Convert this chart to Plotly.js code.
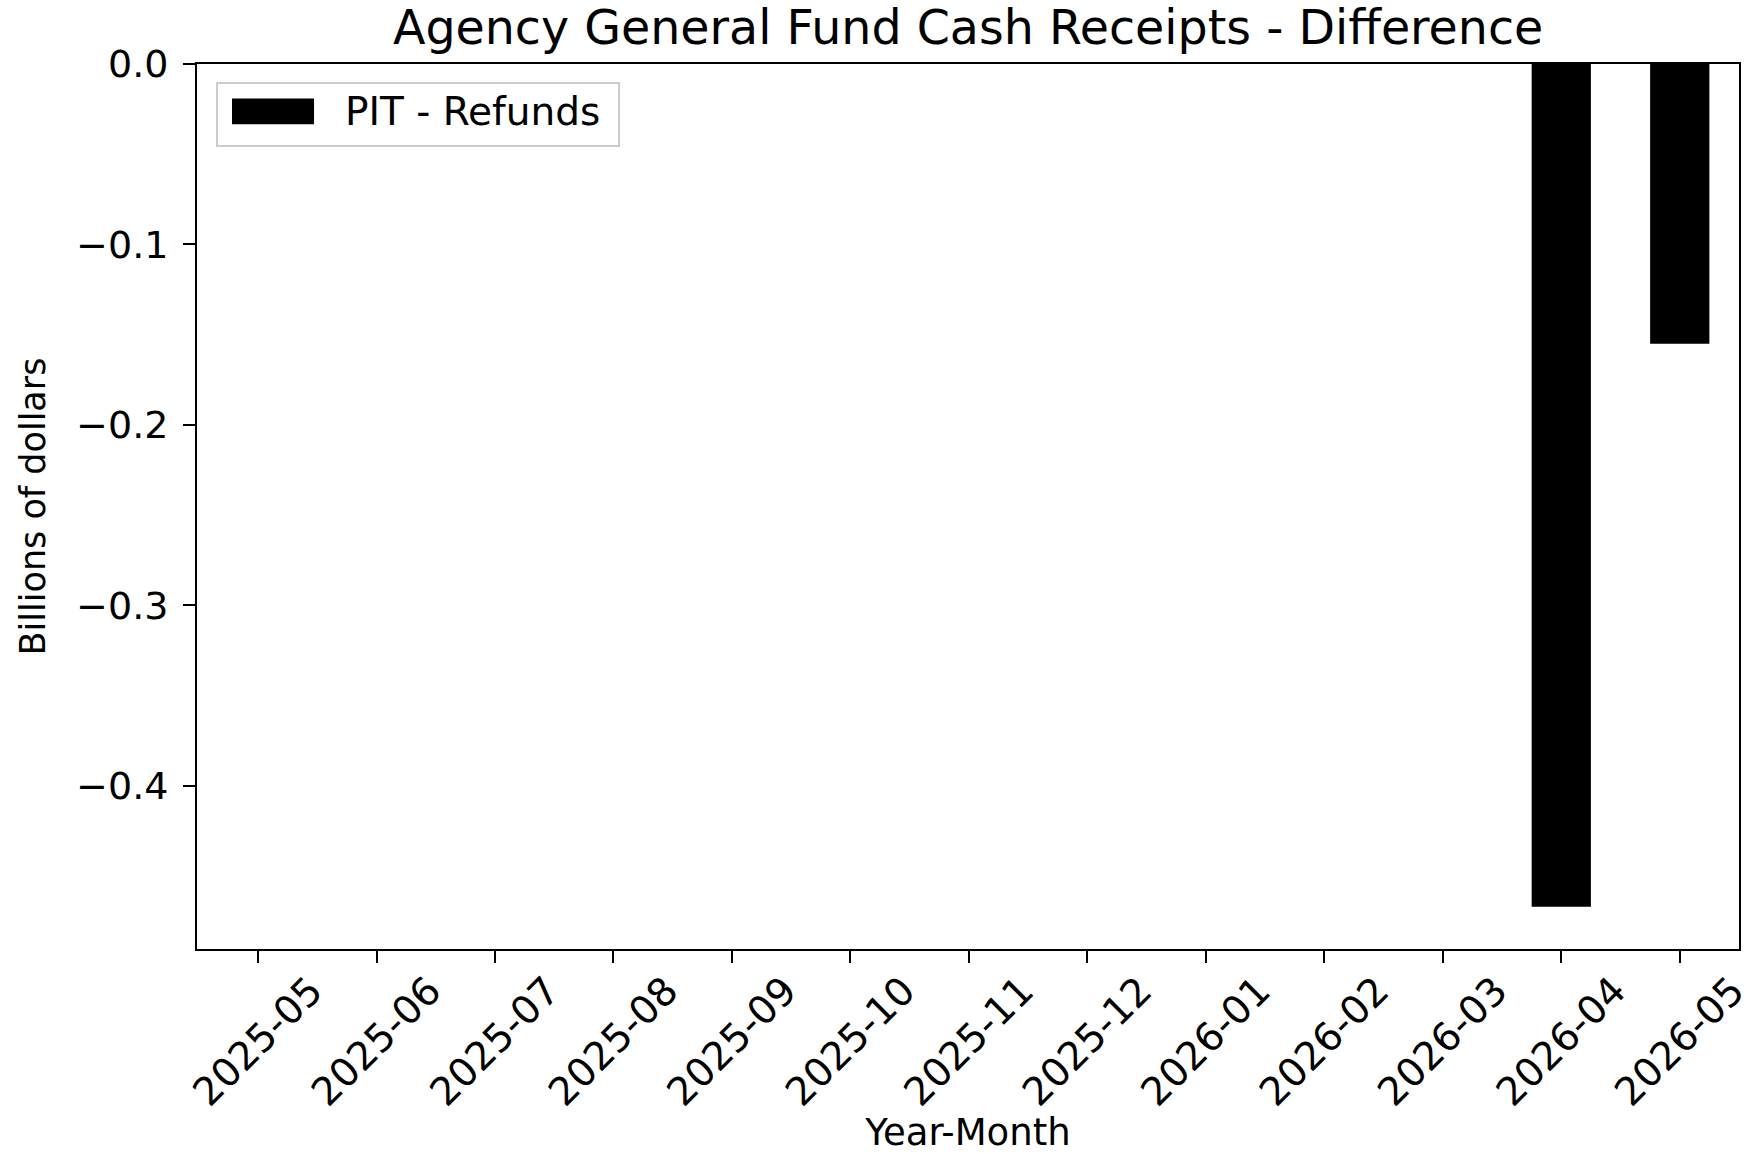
<!DOCTYPE html>
<html>
<head>
<meta charset="utf-8">
<script src="https://cdn.plot.ly/plotly-3.0.1.min.js"></script>
<style>html,body{margin:0;padding:0;background:#fff;}#chart{width:1756px;height:1154px;}</style>
</head>
<body>
<div id="chart"></div>
<script>
// Data
const months = ["2025-05","2025-06","2025-07","2025-08","2025-09","2025-10","2025-11","2025-12","2026-01","2026-02","2026-03","2026-04","2026-05"];
const pitRefunds = [0, 0, 0, 0, 0, 0, 0, 0, 0, 0, 0, -0.467, -0.155];
const seriesName = "PIT - Refunds";
const yTickVals = [0, -0.1, -0.2, -0.3, -0.4];
const chartTitle = "Agency General Fund Cash Receipts - Difference";
const xTitle = "Year-Month";
const yTitle = "Billions of dollars";

const FONT = "DejaVu Sans, Liberation Sans, sans-serif";

const trace = {
  type: "bar",
  x: months,
  y: pitRefunds,
  name: seriesName,
  width: 0.5,
  marker: {color: "#000000", line: {width: 0}},
  showlegend: false
};

const layout = {
  width: 1756,
  height: 1154,
  margin: {l: 197, r: 17, t: 64, b: 205},
  paper_bgcolor: "#ffffff",
  plot_bgcolor: "#ffffff",
  font: {family: FONT, color: "#000000", size: 37},
  title: {
    text: chartTitle,
    font: {family: FONT, size: 47.5, color: "#000000"},
    x: 0.5513, xanchor: "center",
    y: 0.976, yanchor: "middle"
  },
  xaxis: {
    type: "category",
    range: [-0.515, 12.5],
    showgrid: false,
    zeroline: false,
    showline: true,
    linecolor: "#000000",
    linewidth: 2,
    mirror: true,
    ticks: "outside",
    ticklen: 12,
    tickwidth: 2,
    tickcolor: "#000000",
    tickangle: -45,
    ticklabelshift: 53,
    ticklabelstandoff: -11,
    tickfont: {family: FONT, size: 39, color: "#000000"},
    title: {text: xTitle, font: {family: FONT, size: 37, color: "#000000"}, standoff: 6}
  },
  yaxis: {
    range: [-0.4904, 0],
    tickvals: yTickVals,
    tickformat: ".1f",
    showgrid: false,
    zeroline: false,
    showline: true,
    linecolor: "#000000",
    linewidth: 2,
    mirror: true,
    ticks: "outside",
    ticklen: 12,
    tickwidth: 2,
    tickcolor: "#000000",
    ticklabelstandoff: 7,
    tickfont: {family: FONT, size: 38, color: "#000000"},
    title: {text: yTitle, font: {family: FONT, size: 35, color: "#000000"}, standoff: 20}
  },
  shapes: [
    {type: "rect", xref: "paper", yref: "paper", x0: 0.013, x1: 0.2737, y0: 0.9073, y1: 0.9785,
     line: {color: "#cccccc", width: 2}, fillcolor: "rgba(255,255,255,0.8)", layer: "above"},
    {type: "rect", xref: "paper", yref: "paper", x0: 0.0227, x1: 0.0759, y0: 0.932, y1: 0.961,
     line: {width: 0}, fillcolor: "#000000", layer: "above"}
  ],
  annotations: [
    {xref: "paper", yref: "paper", x: 0.0945, y: 0.9458, xanchor: "left", yanchor: "middle",
     text: seriesName, showarrow: false, font: {family: FONT, size: 39, color: "#000000"}}
  ]
};

Plotly.newPlot("chart", [trace], layout, {displayModeBar: false, staticPlot: true});
</script>
</body>
</html>
